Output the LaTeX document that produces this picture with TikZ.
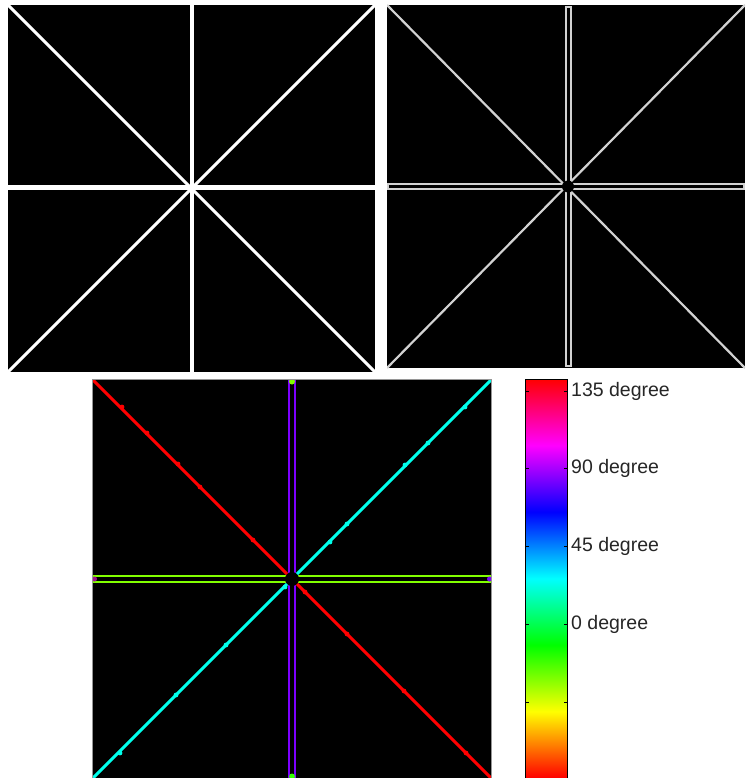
\documentclass[tikz,border=0pt]{standalone}
\usepackage{fontspec}
\setmainfont{Liberation Sans}
\usetikzlibrary{calc}
\definecolor{lightgrey}{RGB}{210,210,210}
\definecolor{frameline}{RGB}{150,150,150}
\definecolor{redline}{RGB}{255,0,0}
\definecolor{cyanline}{RGB}{0,255,235}
\definecolor{violetline}{RGB}{125,0,255}
\definecolor{limeline}{RGB}{130,255,0}
\pgfdeclareverticalshading{hsvbar}{100bp}{%
  color(0bp)=(red); color(25bp)=(red); color(33.33bp)=(yellow);
  color(41.67bp)=(green); color(50bp)=(cyan); color(58.33bp)=(blue);
  color(66.67bp)=(magenta); color(75bp)=(red); color(100bp)=(red)}
\newcommand{\degtick}[3]{%
  \draw[black,line width=0.9pt] (525,#1) -- ++(3.5,0) (567,#1) -- ++(-3.5,0);%
  \node[anchor=west,inner sep=0pt,font=\fontsize{19.5}{22}\selectfont,text=black!85] (#2) at (571,#1) {#3};%
}

\begin{document}
\begin{tikzpicture}[x=1pt,y=-1pt]
  \useasboundingbox (0,0) rectangle (745,778);
  \fill[white] (0,0) rectangle (745,778);

  % edge map
  \begin{scope}
    \clip (8,5) rectangle (375,372);
    \fill[black] (8,5) rectangle (375,372);
    \draw[white,line width=3pt] (8,5) -- (375,372) (8,372) -- (375,5);
    \draw[white,line width=4.6pt] (191.8,5) -- (191.8,372) (8,187.5) -- (375,187.5);
  \end{scope}

  % gradient magnitude
  \begin{scope}
    \clip (387,5) rectangle (745,368);
    \fill[black] (387,5) rectangle (745,368);
    \draw[lightgrey,line width=2.2pt] (387,5) -- (745,368) (387,368) -- (745,5);
    \draw[lightgrey,line width=1.4pt,fill=black] (566,7) rectangle (571,366);
    \draw[lightgrey,line width=1.4pt,fill=black] (388,183.8) rectangle (744,188.8);
    \fill[black] (568,186.5) circle (6);
  \end{scope}

  % orientation map
  \coordinate (mid) at (292,579);
  \begin{scope}
    \clip (93,380) rectangle (491,778);
    \fill[black] (93,380) rectangle (491,778);
    \draw[redline,line width=3pt] (93,380) -- (491,778);
    \draw[cyanline,line width=3pt] (93,778) -- (491,380);
    \foreach \px/\py in {122/407,147/433,178/464,200/487,253/540,305/592,347/634,404/691,466/753}
      \fill[redline] (\px,\py) circle (2.4);
    \foreach \px/\py in {120/753,176/695,226/645,285/587,330/542,347/524,405/465,428/443,465/407}
      \fill[cyanline] (\px,\py) circle (2.4);
    \draw[violetline,line width=2pt] (289,380) -- (289,778) (295,380) -- (295,778);
    \draw[limeline,line width=2pt] (93,576) -- (491,576) (93,581.5) -- (491,581.5);
    \fill[limeline] (292,381.5) circle (3);
    \fill[green!80!yellow] (292,776.5) circle (3);
    \fill[magenta!60!blue] (94.5,579) circle (2.5);
    \fill[violetline] (489.5,579) circle (2.5);
    \fill[black] (mid) circle (7);
  \end{scope}
  \draw[frameline,line width=0.8pt] (92.5,779) -- (92.5,379.5) -- (491.5,379.5) -- (491.5,779);

  % colour bar
  \shade[shading=hsvbar] (525,379) rectangle (567,778);
  \draw[black,line width=1pt] (525,779) -- (525,379) -- (567,379) -- (567,779);
  \degtick{391}{l135}{135 degree}
  \degtick{468.5}{l90}{90 degree}
  \degtick{546}{l45}{45 degree}
  \degtick{624}{l0}{0 degree}
  \draw[black,line width=0.9pt] (525,702) -- ++(3.5,0) (567,702) -- ++(-3.5,0);
\end{tikzpicture}
\end{document}
